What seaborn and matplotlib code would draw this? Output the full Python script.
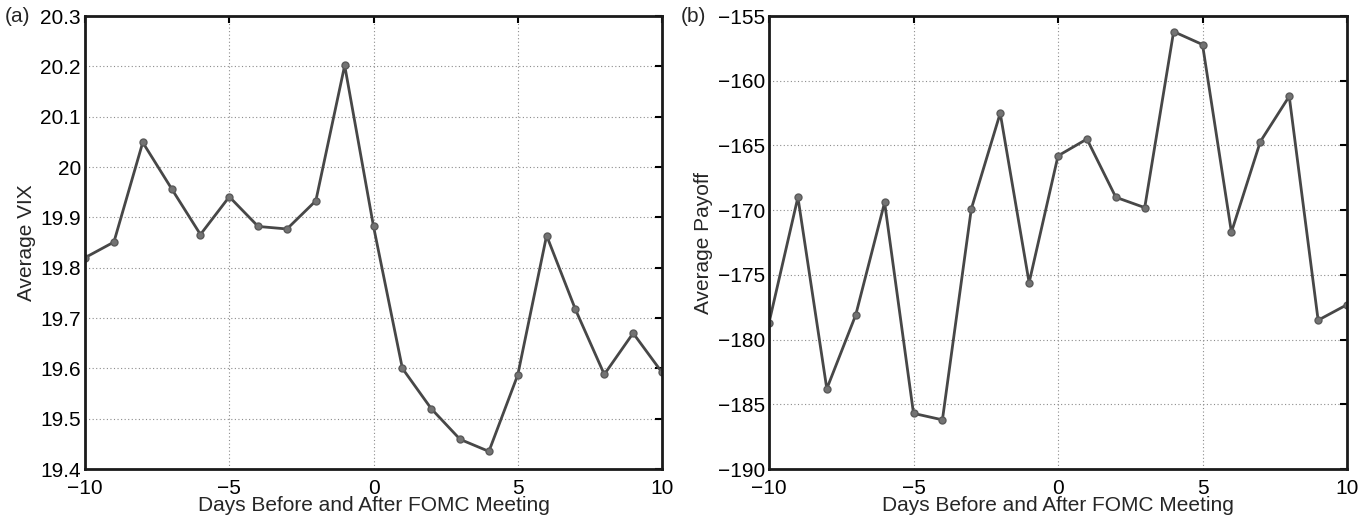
import pandas as pd
import seaborn as sns
import matplotlib.pyplot as plt

# Days relative to FOMC meeting
days = list(range(-10, 11))

# Panel (a): average VIX
vix = [19.820, 19.851, 20.049, 19.957, 19.866, 19.941, 19.882, 19.877, 19.933, 20.202,
       19.882, 19.600, 19.520, 19.459, 19.435, 19.587, 19.864, 19.717, 19.588, 19.670, 19.592]

# Panel (b): average payoff
payoff = [-178.7, -169.0, -183.8, -178.1, -169.4, -185.7, -186.2, -169.9, -162.5, -175.6,
          -165.8, -164.5, -169.0, -169.8, -156.2, -157.2, -171.7, -164.7, -161.2, -178.5, -177.3]

vix_ticklabels = ['19.4', '19.5', '19.6', '19.7', '19.8', '19.9', '20', '20.1', '20.2', '20.3']

df = pd.DataFrame({'day': days, 'vix': vix, 'payoff': payoff})

sns.set_style("white")
plt.rcParams['font.family'] = ['Liberation Sans', 'DejaVu Sans']

fig = plt.figure(figsize=(13.72, 5.19), dpi=100)
ax1 = fig.add_axes([0.062, 0.0963, 0.4205, 0.8727])
ax2 = fig.add_axes([0.5605, 0.0963, 0.4213, 0.8727])

panels = [
    (ax1, 'vix', 'Average VIX', (19.4, 20.3), [19.4 + 0.1 * i for i in range(10)], '(a)'),
    (ax2, 'payoff', 'Average Payoff', (-190, -155), list(range(-190, -154, 5)), '(b)'),
]

for ax, col, ylab, ylim, yticks, tag in panels:
    sns.lineplot(data=df, x='day', y=col, ax=ax, color='#474747', linewidth=2,
                 marker='o', markersize=5, markerfacecolor='#737373',
                 markeredgecolor='#5a5a5a', markeredgewidth=1)
    ax.set_xlim(-10, 10)
    ax.set_ylim(*ylim)
    ax.set_xticks([-10, -5, 0, 5, 10])
    ax.set_yticks(yticks)
    if col == 'vix':
        ax.set_yticklabels(vix_ticklabels)
    ax.grid(True, linestyle=(0, (1, 2.2)), color='#8c8c8c', linewidth=0.8)
    ax.tick_params(direction='in', length=5, width=1.5, top=True, right=True,
                   labelsize=15, colors='black')
    ax.tick_params(axis='x', pad=7)
    ax.tick_params(axis='y', pad=3)
    for sp in ax.spines.values():
        sp.set_linewidth(2)
        sp.set_color('#1a1a1a')
    ax.set_xlabel('Days Before and After FOMC Meeting', fontsize=15, labelpad=-1)
    ax.set_ylabel(ylab, fontsize=15, labelpad=3)
    ax.text(-0.14 if col == 'vix' else -0.152, 1.0, tag, transform=ax.transAxes,
            fontsize=15, ha='left', va='center')

plt.savefig("out.png", dpi=100)
